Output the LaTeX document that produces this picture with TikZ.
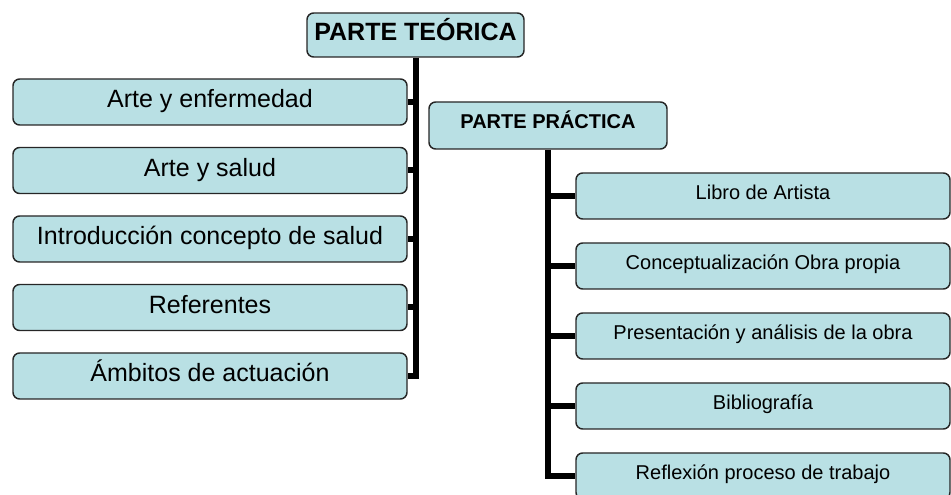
\documentclass[tikz,border=0pt]{standalone}
\usepackage{fontspec}
\setmainfont{Liberation Sans}

\definecolor{boxfill}{RGB}{185,224,228}

\begin{document}

\begin{tikzpicture}[x = 0.75pt, y = -0.75pt,
	box/.style = {draw = black!85, line width = 1.1pt, fill = boxfill,
		rounded corners = 5pt, inner sep = 0pt, align = center},
	bigtext/.style = {font = \fontsize{18.75}{22}\selectfont,
		text height = 13.5pt, text depth = 5pt},
	smalltext/.style = {font = \fontsize{15}{18}\selectfont,
		text height = 10.8pt, text depth = 6pt},
	branch/.style = {line width = 4.5pt, line join = miter}]

	% Box size unit (one pixel of the layout)
	
	\def\px{0.75pt}
	
	\useasboundingbox (0, 0) rectangle (951, 495);
	
	% The two headings
	
	\node [box, bigtext, minimum width = 217*\px, minimum height = 44*\px]
		(teorica) at (415.5, 35) {\bfseries PARTE TEÓRICA};
	\node [box, smalltext, minimum width = 238*\px, minimum height = 47*\px]
		(practica) at (548, 125.5) {\bfseries PARTE PRÁCTICA};
	
	% Theory boxes
	
	\begin{scope}[every node/.style = {box, bigtext, minimum width = 394*\px, minimum height = 46*\px}]
	
		\node (enfermedad) at (210, 102) {Arte y enfermedad};
		\node (salud) at (210, 170.5) {Arte y salud};
		\node (concepto) at (210, 239) {Introducción concepto de salud};
		\node (referentes) at (210, 307.5) {Referentes};
		\node (ambitos) at (210, 376) {Ámbitos de actuación};
		
	\end{scope}
	
	% Practice boxes
	
	\begin{scope}[every node/.style = {box, smalltext, minimum width = 374*\px, minimum height = 46*\px}]
	
		\node (libro) at (763, 196) {Libro de Artista};
		\node (obra) at (763, 266) {Conceptualización Obra propia};
		\node (analisis) at (763, 336) {Presentación y análisis de la obra};
		\node (biblio) at (763, 406) {Bibliografía};
		\node (reflexion) at (763, 476) {Reflexión proceso de trabajo};
		
	\end{scope}
	
	% Connectors
	
	\begin{scope}[branch]
	
		\draw (teorica.south) |- (ambitos.east);
		\draw (teorica.south |- enfermedad.east) -- (enfermedad.east);
		\draw (teorica.south |- salud.east) -- (salud.east);
		\draw (teorica.south |- concepto.east) -- (concepto.east);
		\draw (teorica.south |- referentes.east) -- (referentes.east);
		
		\draw (practica.south) |- (reflexion.west);
		\draw (practica.south |- libro.west) -- (libro.west);
		\draw (practica.south |- obra.west) -- (obra.west);
		\draw (practica.south |- analisis.west) -- (analisis.west);
		\draw (practica.south |- biblio.west) -- (biblio.west);
		
	\end{scope}
		
\end{tikzpicture}

\end{document}
